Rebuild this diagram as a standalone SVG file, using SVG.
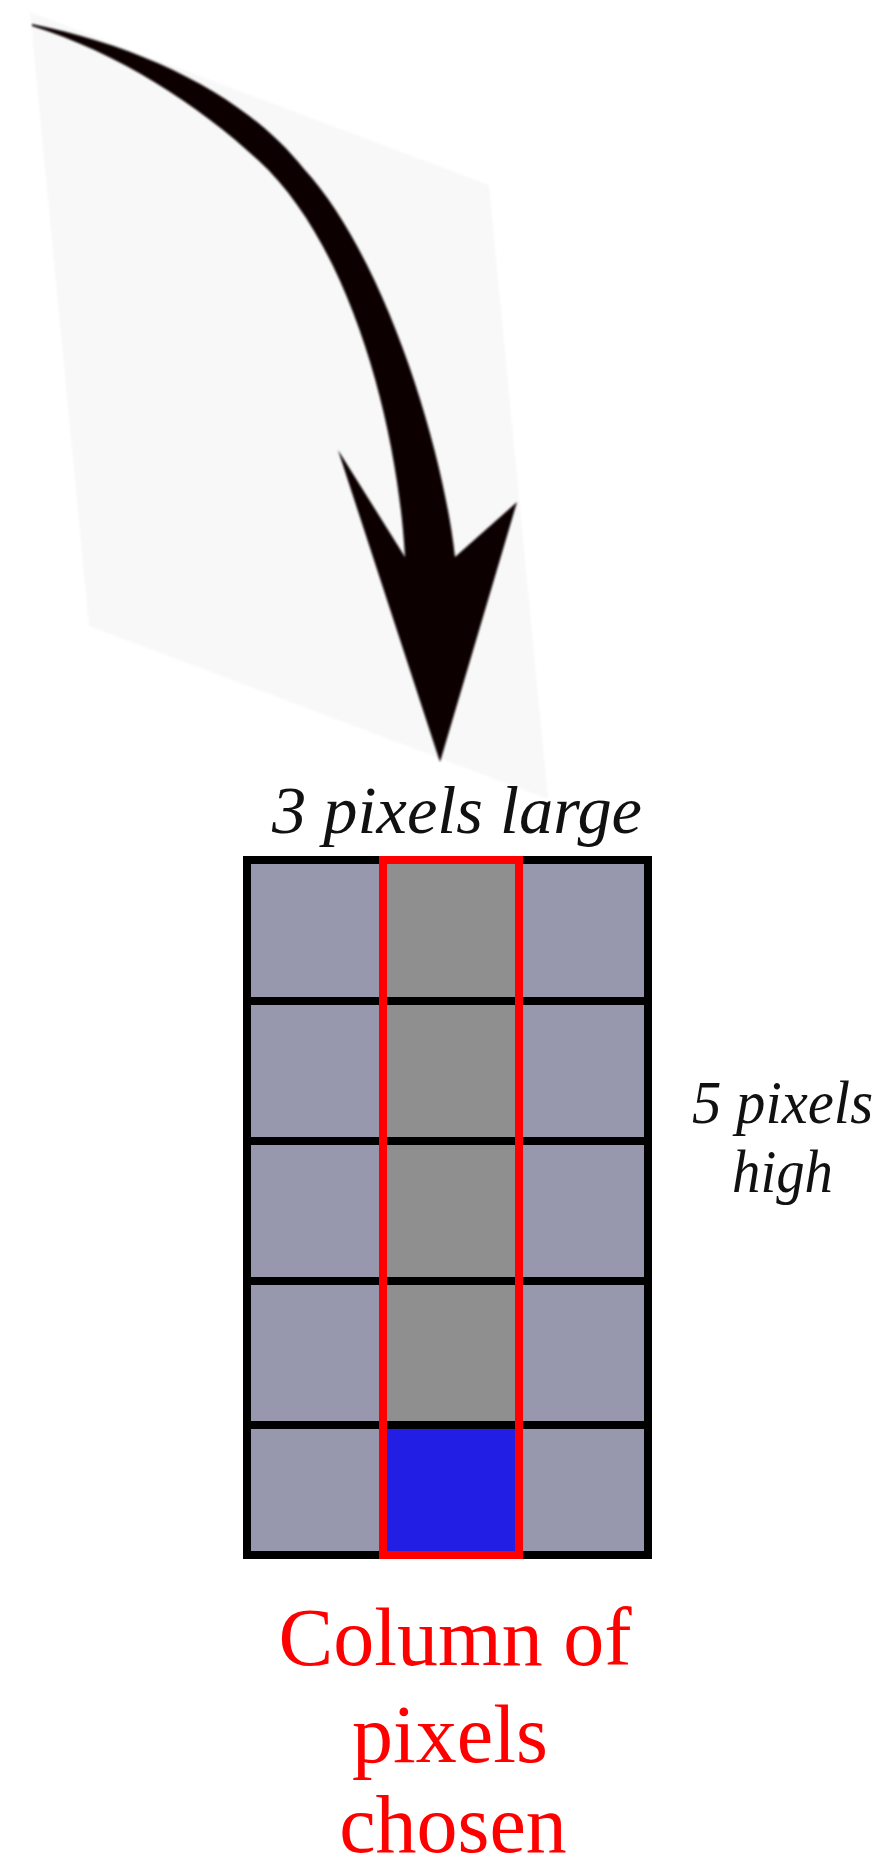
<svg xmlns="http://www.w3.org/2000/svg" width="894" height="1869" viewBox="0 0 894 1869">
  <defs>
    <filter id="soft" x="-5%" y="-5%" width="110%" height="110%">
      <feGaussianBlur stdDeviation="1.3"/>
    </filter>
    <style>
      .cell { fill: #9797AE; }
      .mid { fill: #8F8F8F; }
      .sel { fill: #231EE4; }
      .grid { fill: none; stroke: #000000; stroke-width: 8; }
      .col { fill: none; stroke: #FF0000; stroke-width: 8; }
      text { font-family: Liberation Serif, Tinos, Times New Roman, Times, Noto Serif, DejaVu Serif, FreeSerif, serif; }
      .lbl { font-style: italic; fill: #111111; }
      .red { fill: #FF0000; font-size: 82px; text-anchor: middle; }
    </style>
  </defs>
  <rect width="894" height="1869" fill="#FFFFFF"/>

  <g id="backdrop">
    <polygon points="30,12 489,185 548,799 89,626" fill="#F8F8F8" filter="url(#soft)"/>
  </g>

  <g id="connectors">
    <path filter="url(#soft)" fill="#080404" d="M 32,24 C 150,48 250,100 304,169 C 384,256 443,447 455,557 L 517,502 L 440,762 L 338,450 L 405,557 C 398,430 352,246 258,160 C 200,106 117,52 32,26 Z"/>
  </g>

  <g id="label-width">
    <text class="lbl" x="272" y="833" font-size="68" textLength="370" lengthAdjust="spacingAndGlyphs">3 pixels large</text>
  </g>

  <g id="grid">
    <rect class="cell" x="247" y="860" width="401" height="695"/>
    <rect class="mid" x="383" y="860" width="136" height="565"/>
    <rect class="sel" x="383" y="1425" width="136" height="130"/>
    <g class="grid">
      <line x1="243" y1="1001" x2="652" y2="1001"/>
      <line x1="243" y1="1141" x2="652" y2="1141"/>
      <line x1="243" y1="1281" x2="652" y2="1281"/>
      <line x1="243" y1="1425" x2="652" y2="1425"/>
      <rect x="247" y="860" width="401" height="695"/>
    </g>
  </g>

  <g id="chosen-column">
    <rect class="col" x="383" y="860" width="136" height="695"/>
  </g>

  <g id="label-height">
    <text class="lbl" x="692" y="1123" font-size="62" textLength="181" lengthAdjust="spacingAndGlyphs">5 pixels</text>
    <text class="lbl" x="732" y="1192" font-size="62" textLength="101" lengthAdjust="spacingAndGlyphs">high</text>
  </g>

  <g id="label-column">
    <text class="red" x="455" y="1665">Column of</text>
    <text class="red" x="450" y="1762">pixels</text>
    <text class="red" x="453" y="1852">chosen</text>
  </g>
</svg>
